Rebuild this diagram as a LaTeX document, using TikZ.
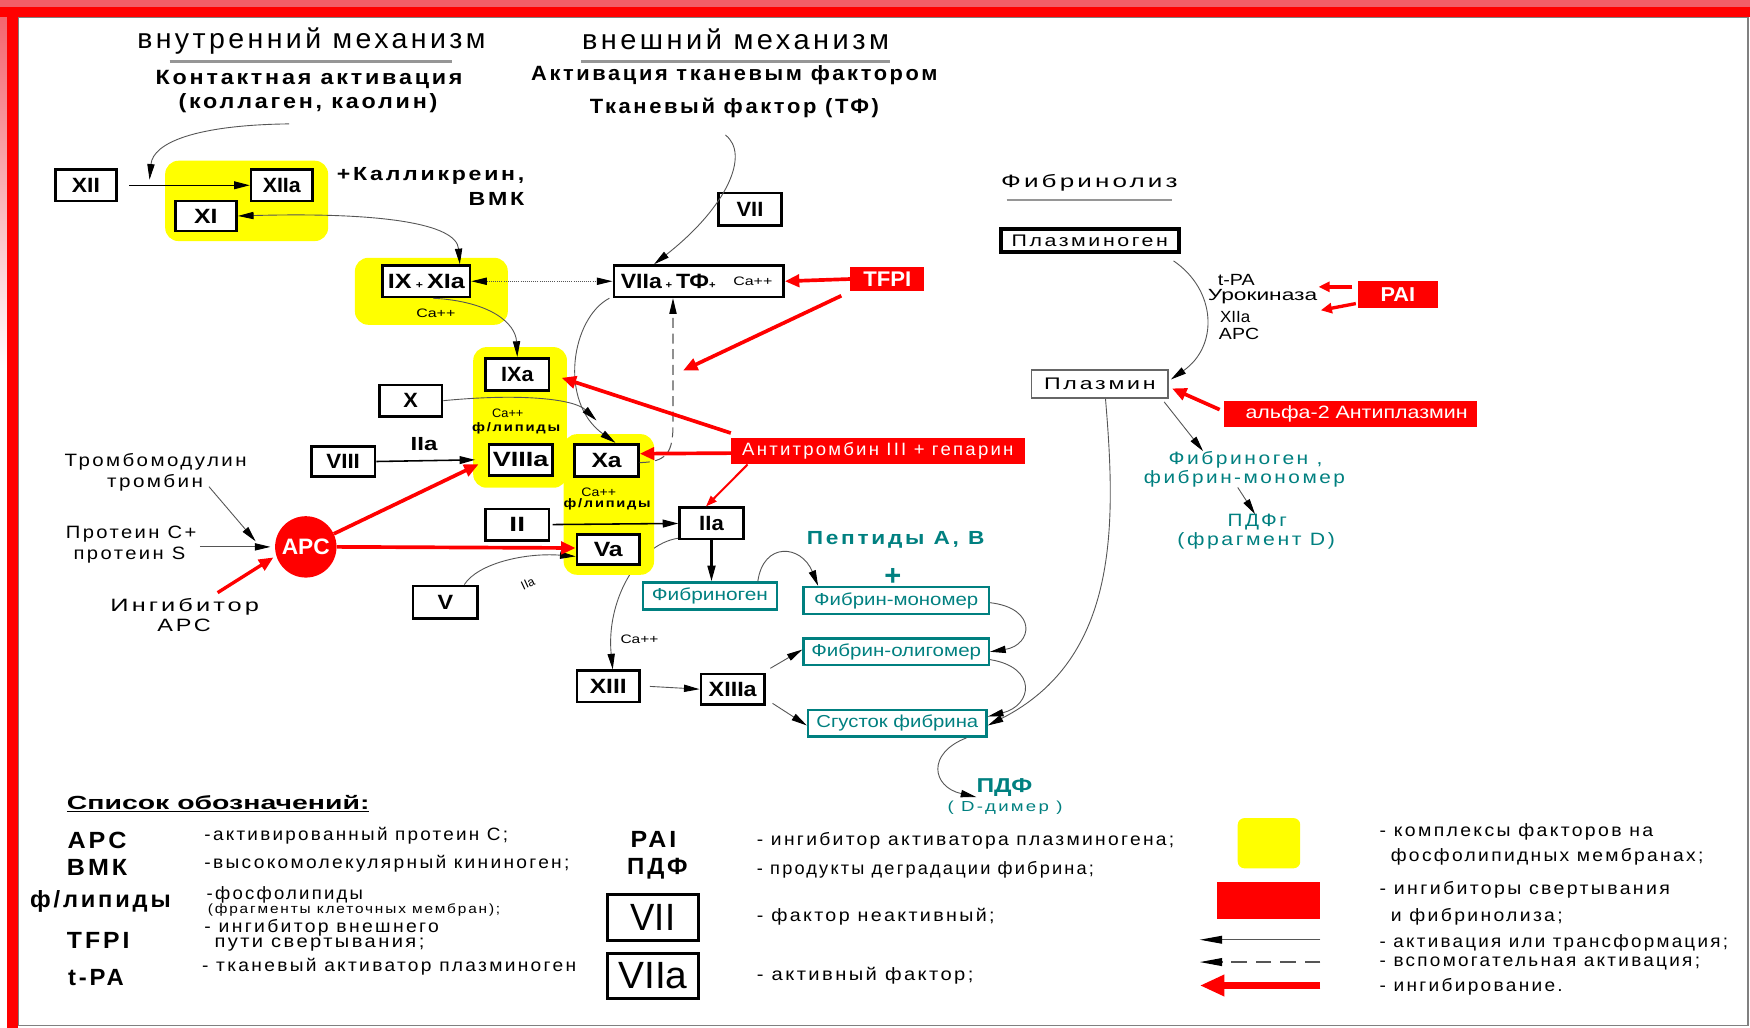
\documentclass[tikz,border=0pt]{standalone}
\usepackage{fontspec}
\usepackage{graphicx}
\usetikzlibrary{arrows.meta}
\setmainfont{Liberation Sans}
\newfontfamily\fsp[LetterSpace=12]{Liberation Sans}
\newcommand\myfs[1]{\fontsize{#1}{#1}\selectfont}
\newcommand\fitw[2]{\resizebox{#1pt}{\height}{#2}}
\definecolor{tealc}{RGB}{0,128,128}
\definecolor{pinkc}{RGB}{242,94,104}
\definecolor{yelc}{RGB}{255,255,0}
\definecolor{gline}{RGB}{85,85,85}
\definecolor{uline}{RGB}{150,150,150}
\pgfdeclarelayer{bg}
\pgfdeclarelayer{bk}
\pgfdeclarelayer{yl}
\pgfsetlayers{bg,bk,yl,main}
\tikzset{
  fbox/.style={draw=black, line width=2.4pt, fill=white, inner sep=0pt, font=\myfs{18.5}\bfseries},
  tbox/.style={draw=tealc, line width=2.2pt, fill=white, inner sep=0pt, text=tealc, font=\myfs{15.5}},
  rbox/.style={fill=red, inner sep=0pt, text=white},
  txt/.style={inner sep=0pt},
  blk/.style={-{Triangle[length=14pt,width=6.5pt,color=black]}},
  dbl/.style={arrows={Triangle[length=14pt,width=6.5pt,color=black]-Triangle[length=14pt,width=6.5pt,color=black]}},
  con/.style={draw=gline, line width=0.8pt, blk},
  conb/.style={draw=black, line width=1.4pt, -{Triangle[length=14pt,width=7pt]}},
  inh/.style={draw=red, line width=3.3pt, -{Triangle[length=13pt,width=11pt]}},
  yel/.style={fill=yelc, rounded corners=12pt},
  desc/.style={inner sep=0pt, anchor=west, font=\fsp\myfs{16}},
}
\begin{document}
\begin{tikzpicture}[x=1pt,y=-1pt]
\useasboundingbox (0,0) rectangle (1568,921);
% frame
\begin{pgfonlayer}{bg}
\fill[white] (0,0) rectangle (1568,921);
\shade[top color=pinkc, bottom color=white] (0,0) rectangle (6,330);
\fill[pinkc] (0,0) rectangle (1568,6);
\fill[red] (0,6) rectangle (1568,15);
\fill[red] (6,6) rectangle (16,921);
\draw[gray, line width=1.4pt] (16.7,15.7) -- (1566.3,15.7) -- (1566.3,918.8) -- (16.7,918.8) -- cycle;
\end{pgfonlayer}

% yellow complexes
\begin{pgfonlayer}{yl}
\fill[yel] (148,144) rectangle (294,216);
\fill[yel] (318,231) rectangle (455,291);
\fill[yel] (424,311) rectangle (508,437);
\fill[yel] (505,389) rectangle (586,515);
\end{pgfonlayer}

% headings
\node[txt, font=\fsp\myfs{25}] (tin) at (279,37) {\fitw{312}{внутренний механизм}};
\node[txt, font=\fsp\myfs{25}] (tex) at (659,35) {\fitw{275}{внешний механизм}};
\draw[uline, line width=2pt] (152,55) -- (405,55);
\draw[uline, line width=2pt] (521,55) -- (797,55);
\node[txt, font=\fsp\myfs{18.5}\bfseries] (ca1) at (277,71) {\fitw{275}{Контактная активация}};
\node[txt, font=\fsp\myfs{18.5}\bfseries] (ca2) at (276,92) {\fitw{232}{(коллаген, каолин)}};
\node[txt, font=\fsp\myfs{18.5}\bfseries] (ta1) at (658,67) {\fitw{364}{Активация тканевым фактором}};
\node[txt, font=\fsp\myfs{18.5}\bfseries] (ta2) at (658,97) {\fitw{259}{Тканевый фактор (ТФ)}};
\node[txt, font=\fsp\myfs{17}\bfseries, anchor=east] (kal) at (470,158) {\fitw{168}{+Калликреин,}};
\node[txt, font=\fsp\myfs{17}\bfseries, anchor=east] (vmk) at (470,178) {\fitw{50}{ВМК}};

% factor boxes
\node[fbox, minimum width=55pt, minimum height=28pt] (XII) at (77,166) {\fitw{25}{XII}};
\node[fbox, minimum width=55pt, minimum height=28pt] (XIIa) at (252.5,166) {\fitw{34}{XIIa}};
\node[fbox, minimum width=55pt, minimum height=27pt] (XI) at (184.5,193.5) {\fitw{21}{XI}};
\node[fbox, minimum width=78pt, minimum height=28pt] (IXXIa) at (382,252) {\fitw{69}{IX\,{\myfs{9}+}\,XIa}};
\node[fbox, minimum width=152pt, minimum height=28pt] (VIIaTF) at (626,252) {};
\node[txt, font=\myfs{18.5}\bfseries, anchor=west] (VIIaTFt) at (556,252) {\fitw{85}{VIIa\,{\myfs{9}+}\,ТФ{\myfs{9}+}}};
\node[txt, font=\myfs{11}] (VIIaCa) at (674.5,252) {\fitw{35}{Ca++}};
\node[fbox, minimum width=56pt, minimum height=29pt] (VII) at (672,187.5) {\fitw{24}{VII}};
\node[rbox, minimum width=66pt, minimum height=22pt, font=\myfs{19}\bfseries] (TFPI) at (795,250) {\fitw{43}{TFPI}};
\node[fbox, minimum width=57pt, minimum height=29pt] (IXa) at (463.5,335.5) {\fitw{29}{IXa}};
\node[fbox, minimum width=56pt, minimum height=28pt] (X) at (368,359) {\fitw{13}{X}};
\node[fbox, minimum width=57pt, minimum height=27pt] (VIII) at (307.5,413.5) {\fitw{30}{VIII}};
\node[fbox, minimum width=57pt, minimum height=28pt] (VIIIa) at (466.5,412) {\fitw{50}{VIIIa}};
\node[fbox, minimum width=57pt, minimum height=29pt] (Xa) at (543.5,412.5) {\fitw{27}{Xa}};
\node[fbox, minimum width=57pt, minimum height=28pt] (II) at (463.5,470) {\fitw{14}{II}};
\node[fbox, minimum width=57pt, minimum height=28pt] (IIa) at (637.5,469) {\fitw{22}{IIa}};
\node[fbox, minimum width=56pt, minimum height=27pt] (Va) at (545,492.5) {\fitw{26}{Va}};
\node[fbox, minimum width=58pt, minimum height=29pt] (V) at (399,539.5) {\fitw{14}{V}};
\node[fbox, minimum width=56pt, minimum height=28pt] (XIII) at (545,615) {\fitw{33}{XIII}};
\node[fbox, minimum width=57pt, minimum height=27pt] (XIIIa) at (656.5,617.5) {\fitw{43}{XIIIa}};

% small labels
\node[txt, font=\myfs{11}] (caix) at (390.5,281) {\fitw{35}{Ca++}};
\node[txt, font=\myfs{11}] (cay3) at (455,370) {\fitw{28}{Ca++}};
\node[txt, font=\fsp\myfs{11}\bfseries] (fly3) at (462.5,384) {\fitw{79}{ф/липиды}};
\node[txt, font=\myfs{11}] (cay4) at (536.5,441) {\fitw{31}{Ca++}};
\node[txt, font=\fsp\myfs{11}\bfseries] (fly4) at (544,452) {\fitw{78}{ф/липиды}};
\node[txt, font=\myfs{11}] (ca13) at (573,573) {\fitw{34}{Ca++}};
\node[txt, font=\myfs{17}\bfseries] (IIalab) at (380,398) {\fitw{24}{IIa}};
\node[txt, font=\myfs{11}, rotate=25] (IIav) at (473,523) {IIa};

% teal boxes
\node[tbox, minimum width=120pt, minimum height=24pt] (Fg) at (636,534) {\fitw{104}{Фибриноген}};
\node[tbox, minimum width=166pt, minimum height=24pt] (Fm) at (803,538) {\fitw{147}{Фибрин-мономер}};
\node[tbox, minimum width=166pt, minimum height=24pt] (Fo) at (803,584) {\fitw{152}{Фибрин-олигомер}};
\node[tbox, minimum width=160pt, minimum height=24pt] (Cl) at (804,648) {\fitw{145}{Сгусток фибрина}};
\node[txt, font=\fsp\myfs{17}\bfseries, text=tealc] (pep) at (802.5,484) {\fitw{159}{Пептиды А, В}};
\node[txt, font=\myfs{26}\bfseries, text=tealc] (plus) at (800,517) {+};
\node[txt, font=\myfs{18}\bfseries, text=tealc] (pdf) at (900,706) {\fitw{50}{ПДФ}};
\node[txt, font=\fsp\myfs{13}, text=tealc] (ddim) at (900.5,724) {\fitw{103}{( D-димер )}};

% red inhibitors
\node[rbox, minimum width=263pt, minimum height=24pt, font=\fsp\myfs{16}] (AT) at (786.5,404) {\fitw{243}{Антитромбин III + гепарин}};
\node[rbox, minimum width=71pt, minimum height=24pt, font=\myfs{18}\bfseries] (PAI) at (1252.5,264) {\fitw{31}{PAI}};
\node[rbox, minimum width=226pt, minimum height=24pt, font=\myfs{16}] (A2) at (1210,371) {\hspace*{11pt}\fitw{199}{альфа-2 Антиплазмин}};
\node[circle, fill=red, minimum size=55pt, inner sep=0pt, text=white, font=\myfs{20}\bfseries] (APC) at (274,490) {\fitw{43}{APC}};

% left texts
\node[txt, font=\fsp\myfs{16}] (tm1) at (139.5,414) {\fitw{163}{Тромбомодулин}};
\node[txt, font=\fsp\myfs{16}] (tm2) at (139,433) {\fitw{86}{тромбин}};
\node[txt, font=\fsp\myfs{16}] (pc1) at (117.5,479) {\fitw{117}{Протеин С+}};
\node[txt, font=\fsp\myfs{16}] (pc2) at (116,497) {\fitw{100}{протеин S}};
\node[txt, font=\fsp\myfs{16}] (ia1) at (165.5,544) {\fitw{133}{Ингибитор}};
\node[txt, font=\fsp\myfs{16}] (ia2) at (165,560) {\fitw{48}{АРС}};

% fibrinolysis
\node[txt, font=\fsp\myfs{16}] (fib) at (976,164) {\fitw{158}{Фибринолиз}};
\draw[uline, line width=2pt] (902,179) -- (1050,179);
\node[draw=black, line width=3.5pt, fill=white, minimum width=159pt, minimum height=21pt, inner sep=0pt, font=\fsp\myfs{15}] (Pg) at (976.5,215.5) {\fitw{140}{Плазминоген}};
\node[draw=black!60, line width=1.2pt, fill=white, minimum width=122pt, minimum height=25pt, inner sep=0pt, font=\fsp\myfs{15}] (Pl) at (985.5,344) {\fitw{100}{Плазмин}};
\node[txt, font=\myfs{14.5}, anchor=west] (tpa) at (1091,251) {\fitw{33}{t-PA}};
\node[txt, font=\myfs{14.5}, anchor=west] (uro) at (1082,266) {\fitw{98}{Урокиназа}};
\node[txt, font=\myfs{14.5}, anchor=west] (x12) at (1093,284) {\fitw{27}{XIIa}};
\node[txt, font=\myfs{14.5}, anchor=west] (apc2) at (1092,299) {\fitw{36}{APC}};
\node[txt, font=\fsp\myfs{16}, text=tealc] (fg2) at (1116,412) {\fitw{138}{Фибриноген ,}};
\node[txt, font=\fsp\myfs{16}, text=tealc] (fm2) at (1115,429) {\fitw{180}{фибрин-мономер}};
\node[txt, font=\fsp\myfs{16}, text=tealc] (pdfg) at (1126.5,468) {\fitw{53}{ПДФг}};
\node[txt, font=\fsp\myfs{16}, text=tealc] (frD) at (1125.5,485) {\fitw{141}{(фрагмент D)}};

% connectors
\coordinate (cst) at (259,111);
\coordinate (cen) at (134,161);
\draw[con] (cst) .. controls (175,112) and (137,128) .. (cen);
\draw[conb, line width=1pt] ([xshift=10pt]XII.east) -- (XIIa.west);
\draw[con, dbl] (XI.east) .. controls (340,190) and (409,200) .. ([xshift=30pt]IXXIa.north);
\draw[draw=gline, line width=0.9pt, densely dotted, dbl] (IXXIa.east) -- (VIIaTF.west);
\coordinate (tfs) at (650,121);
\draw[con] (tfs) .. controls (672,138) and (652,185) .. ([xshift=-40pt]VIIaTF.north);
\draw[inh] (TFPI.west) -- (VIIaTF.east);
\coordinate (tfpit) at (612,332);
\draw[inh] ([xshift=-8pt,yshift=-15pt]TFPI.west) -- (tfpit);
\draw[draw=gline, line width=0.9pt, dash pattern=on 9pt off 5pt, blk] ([yshift=-2pt]Xa.east) .. controls (598,414) and (603,405) .. (603,380) -- ([xshift=-23pt]VIIaTF.south);
\draw[con] ([xshift=-80pt]VIIaTF.south) .. controls (512,285) and (500,360) .. ([xshift=8pt]Xa.north);
\draw[con] ([xshift=6pt]IXXIa.south) .. controls (440,270) and (462,290) .. (IXa.north);
\draw[con] (X.east) .. controls (470,352) and (515,358) .. ([xshift=-9pt,yshift=20pt]Xa.north);
\draw[conb] (VIII.east) -- ([xshift=-11pt]VIIIa.west);
\draw[conb] ([xshift=2pt]II.east) -- (IIa.west);
\draw[conb, line width=2pt] (IIa.south) -- (IIa.south |- Fg.north);
\draw[con] ([xshift=17pt]V.north) .. controls (428,505) and (470,495) .. ([yshift=-6pt]Va.west);
\draw[inh] (APC.25) -- ([xshift=-8pt,yshift=-4pt]VIIIa.west);
\draw[inh] (APC.east) -- ([yshift=1.5pt]Va.west);
\draw[con] ([xshift=5pt,yshift=-3pt]tm2.east) -- ([xshift=-45pt,yshift=5pt]APC.center);
\coordinate (pcs) at (179,490);
\draw[con] (pcs) -- ([xshift=-4pt]APC.west);
\coordinate (ias) at (195,531);
\draw[inh, line width=3pt] (ias) -- ([xshift=-3pt]APC.200);
\draw[inh] ([yshift=-2pt]AT.west) -- ([yshift=6pt]Xa.east);
\draw[inh] ([yshift=16pt]AT.west) -- ([xshift=10pt,yshift=-3pt]IXa.east);
\draw[draw=red, line width=1.8pt, -{Triangle[length=10pt,width=7pt]}] ([xshift=15pt]AT.south west) -- ([xshift=-5pt]IIa.north);
\begin{pgfonlayer}{bk}
\draw[con] ([yshift=2pt]IIa.south west) .. controls (570,488) and (543,540) .. ([xshift=4pt]XIII.north);
\end{pgfonlayer}
\draw[con] ([xshift=43pt]Fg.north) .. controls (684,485) and (718,488) .. ([xshift=-70pt]Fm.north);
\draw[con] ([yshift=-2pt]Fm.east) .. controls (930,545) and (925,578) .. (Fo.east);
\draw[con] ([yshift=-7pt]Fo.east) .. controls (930,598) and (925,632) .. ([yshift=6pt]Cl.east);
\draw[con] ([xshift=5pt]Pl.south) .. controls (1000,470) and (1003,590) .. ([yshift=-2pt]Cl.east);
\draw[con] ([xshift=8pt]XIII.east) -- (XIIIa.west);
\draw[con] ([shift={(4pt,4pt)}]XIIIa.north east) -- ([yshift=2pt]Fo.west);
\draw[con] ([shift={(6pt,2pt)}]XIIIa.south east) -- ([yshift=-2pt]Cl.west);
\draw[con] ([xshift=62pt]Cl.south) .. controls (830,675) and (835,705) .. (pdf.south west);
\draw[con] ([xshift=75pt,yshift=-6pt]Pg.south) .. controls (1090,260) and (1092,310) .. ([shift={(2pt,4pt)}]Pl.east);
\draw[inh, line width=3pt, -{Triangle[length=10pt,width=9pt]}] ([shift={(-5pt,7pt)}]PAI.west) -- ([shift={(1pt,9pt)}]uro.east);
\draw[inh, line width=3pt, -{Triangle[length=10pt,width=9pt]}] ([shift={(-2pt,-8pt)}]PAI.west) -- ([shift={(3pt,-12pt)}]uro.east);
\draw[inh] ([shift={(-4pt,4pt)}]A2.west) -- ([shift={(3pt,-4pt)}]Pl.east);
\draw[con] ([xshift=-4pt,yshift=-3pt]Pl.south east) -- ([xshift=-38pt]fg2.north);
\draw[con] ([xshift=-6pt]fm2.south) -- ([xshift=-2pt]pdfg.north);

% legend
\node[txt, font=\myfs{17}\bfseries] (leg) at (195.5,720) {\fitw{271}{\underline{Список обозначений:}}};
\node[txt, font=\fsp\myfs{21}\bfseries] (lAPC) at (87,753) {\fitw{53}{APC}};
\node[txt, font=\fsp\myfs{21}\bfseries] (lBMK) at (87,777) {\fitw{54}{ВМК}};
\node[txt, font=\fsp\myfs{21}\bfseries] (lfl) at (90,808) {\fitw{126}{ф/липиды}};
\node[txt, font=\fsp\myfs{21}\bfseries] (lTFPI) at (88,843) {\fitw{56}{TFPI}};
\node[txt, font=\fsp\myfs{21}\bfseries] (ltPA) at (86,876) {\fitw{50}{t-PA}};
\node[desc] (d1) at (183,749) {\fitw{272}{-активированный протеин С;}};
\node[desc] (d2) at (183,774) {\fitw{327}{-высокомолекулярный кининоген;}};
\node[desc] (d3) at (185,802) {\fitw{140}{-фосфолипиды}};
\node[desc, font=\fsp\myfs{12}] (d4) at (186,815) {\fitw{262}{(фрагменты клеточных мембран);}};
\node[desc] (d5) at (183,831) {\fitw{210}{- ингибитор внешнего}};
\node[desc] (d6) at (192,846) {\fitw{188}{пути свертывания;}};
\node[desc] (d7) at (181,866) {\fitw{335}{- тканевый активатор плазминоген}};
\node[txt, font=\fsp\myfs{21}\bfseries] (lPAI) at (585.5,752) {\fitw{41}{PAI}};
\node[txt, font=\fsp\myfs{21}\bfseries] (lPDF) at (589,778) {\fitw{54}{ПДФ}};
\node[draw=black, line width=2.8pt, minimum width=81pt, minimum height=41pt, inner sep=0pt, font=\myfs{34}] (lVII) at (585,822) {\fitw{40}{VII}};
\node[draw=black, line width=2.8pt, minimum width=81pt, minimum height=40pt, inner sep=0pt, font=\myfs{34}] (lVIIa) at (585,874.5) {\fitw{62}{VIIa}};
\node[desc] (m1) at (678,753) {\fitw{374}{- ингибитор активатора плазминогена;}};
\node[desc] (m2) at (678,779) {\fitw{302}{- продукты деградации фибрина;}};
\node[desc] (m3) at (678,821) {\fitw{213}{- фактор неактивный;}};
\node[desc] (m4) at (678,874) {\fitw{194}{- активный фактор;}};
\fill[yelc, rounded corners=6pt] (1109,733) rectangle (1165,778);
\fill[red] (1090,790) rectangle (1183,823);
\coordinate (l1s) at (1183,842); \coordinate (l1e) at (1075,842);
\draw[draw=gline, line width=1pt, -{Triangle[length=20pt,width=7pt,color=black]}] (l1s) -- (l1e);
\coordinate (l2s) at (1183,862); \coordinate (l2e) at (1075,862);
\draw[draw=gline, line width=1.2pt, dash pattern=on 14pt off 8pt, -{Triangle[length=20pt,width=7pt,color=black]}] (l2s) -- (l2e);
\coordinate (l3s) at (1183,883); \coordinate (l3e) at (1075,883);
\draw[draw=red, line width=7pt, -{Triangle[length=22pt,width=18pt]}] (l3s) -- (l3e);
\node[desc] (r1) at (1236,745) {\fitw{245}{- комплексы факторов на}};
\node[desc] (r2) at (1246,768) {\fitw{280}{фосфолипидных мембранах;}};
\node[desc] (r3) at (1236,797) {\fitw{260}{- ингибиторы свертывания}};
\node[desc] (r4) at (1246,821) {\fitw{154}{и фибринолиза;}};
\node[desc] (r5) at (1236,845) {\fitw{312}{- активация или трансформация;}};
\node[desc] (r6) at (1236,863) {\fitw{287}{- вспомогательная активация;}};
\node[desc] (r7) at (1236,884) {\fitw{164}{- ингибирование.}};
\end{tikzpicture}
\end{document}
